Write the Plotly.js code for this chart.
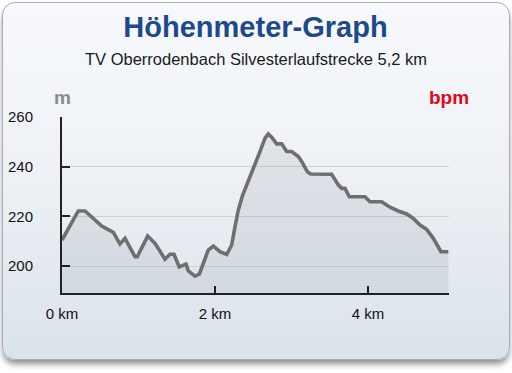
<!DOCTYPE html>
<html>
<head>
<meta charset="utf-8">
<script src="https://cdn.plot.ly/plotly-3.0.1.min.js"></script>
<style>
  html, body { margin: 0; padding: 0; width: 512px; height: 373px; background: #ffffff; overflow: hidden; }
  #card {
    position: absolute; left: 2px; top: 2px; width: 506px; height: 356px;
    border: 1px solid #a9adb2; border-radius: 13px;
    background: linear-gradient(to bottom, #f7f9fc 0%, #eef2f6 45%, #dae2ea 100%);
    box-shadow: 0 5px 6px -1px rgba(0,0,0,0.45);
  }
  #chart { position: absolute; left: 0; top: 0; width: 512px; height: 373px; }
</style>
</head>
<body>
<div id="card"></div>
<div id="chart"></div>
<script>
// distance (km) and elevation (m)
const distanceKm = [0.000, 0.213, 0.301, 0.519, 0.671, 0.758, 0.824, 0.954, 0.984, 1.120,
  1.216, 1.346, 1.412, 1.464, 1.533, 1.621, 1.651, 1.739, 1.795, 1.856,
  1.912, 1.978, 2.065, 2.153, 2.218, 2.261, 2.305, 2.362, 2.435, 2.501,
  2.579, 2.654, 2.697, 2.741, 2.806, 2.872, 2.937, 3.003, 3.089, 3.133,
  3.207, 3.251, 3.525, 3.612, 3.656, 3.699, 3.756, 3.961, 4.026, 4.179,
  4.288, 4.396, 4.506, 4.592, 4.680, 4.767, 4.854, 4.954, 5.050];
const elevationM = [210.5, 222.2, 222.2, 216.1, 213.6, 208.9, 211.2, 203.8, 203.8, 212.1,
  209.2, 202.8, 204.8, 204.8, 199.7, 200.8, 198.1, 196.0, 196.8, 201.7,
  206.5, 208.1, 205.8, 204.7, 208.5, 215.8, 222.6, 228.6, 234.0, 239.4,
  245.4, 251.5, 253.2, 251.9, 249.2, 249.2, 246.1, 246.1, 244.1, 242.1,
  238.0, 237.1, 237.0, 232.7, 231.3, 231.3, 227.9, 227.9, 225.9, 225.9,
  223.7, 222.2, 221.0, 219.2, 216.5, 214.8, 211.2, 205.8, 205.8];
const xTickVals = [0, 2, 4];
const xTickText = ['0 km', '2 km', '4 km'];
const yTickVals = [200, 220, 240, 260];
const titleText = 'Höhenmeter-Graph';
const subtitleText = 'TV Oberrodenbach Silvesterlaufstrecke 5,2 km';
const leftUnit = 'm';
const rightUnit = 'bpm';

const FONT = 'Liberation Sans, Arial, Helvetica, sans-serif';

const trace = {
  x: distanceKm, y: elevationM, type: 'scatter', mode: 'lines',
  line: { color: '#6f6f6f', width: 3.6, shape: 'linear' },
  fill: 'tozeroy', fillcolor: 'rgba(140,148,160,0.17)',
  hoverinfo: 'skip'
};

const layout = {
  width: 512, height: 373,
  margin: { l: 62, r: 63, t: 117, b: 80 },
  paper_bgcolor: 'rgba(0,0,0,0)', plot_bgcolor: 'rgba(0,0,0,0)',
  showlegend: false,
  font: { family: FONT, color: '#111', size: 15 },
  title: {
    text: '<b>' + titleText + '</b>',
    font: { family: FONT, size: 29, color: '#1d4a8b' },
    x: 0.5, xanchor: 'center', xref: 'paper',
    y: 1 - 27 / 373, yanchor: 'middle', yref: 'container'
  },
  xaxis: {
    range: [0, 5.059], showgrid: false, zeroline: false,
    showline: true, linecolor: '#222', linewidth: 2,
    ticks: 'inside', ticklen: 7, tickwidth: 2, tickcolor: '#222',
    tickvals: xTickVals, ticktext: xTickText,
    tickfont: { family: FONT, size: 15, color: '#111' },
    ticklabelstandoff: 6, fixedrange: true
  },
  yaxis: {
    range: [189.2, 260], showgrid: true, gridcolor: '#ccd1d6', gridwidth: 1,
    zeroline: false, showline: true, linecolor: '#222', linewidth: 2,
    ticks: 'inside', ticklen: 8, tickwidth: 2, tickcolor: '#222',
    tickvals: yTickVals,
    tickfont: { family: FONT, size: 15, color: '#111' },
    ticklabelstandoff: 24, fixedrange: true
  },
  annotations: [
    { text: subtitleText, xref: 'paper', yref: 'paper', x: 0.5, xanchor: 'center',
      y: (373 - 80 - 58.5) / (373 - 117 - 80) , yanchor: 'middle', yshift: 0,
      showarrow: false, font: { family: FONT, size: 16.5, color: '#1a1a1a' } },
    { text: '<b>' + leftUnit + '</b>', xref: 'paper', yref: 'paper', x: 0, xanchor: 'center',
      y: (373 - 80 - 97) / (373 - 117 - 80), yanchor: 'middle',
      showarrow: false, font: { family: FONT, size: 19, color: '#8a8a8a' } },
    { text: '<b>' + rightUnit + '</b>', xref: 'paper', yref: 'paper', x: 1, xanchor: 'center',
      y: (373 - 80 - 97) / (373 - 117 - 80), yanchor: 'middle',
      showarrow: false, font: { family: FONT, size: 19, color: '#e4061c' } }
  ]
};

Plotly.newPlot('chart', [trace], layout, { staticPlot: true, displayModeBar: false });
</script>
</body>
</html>
